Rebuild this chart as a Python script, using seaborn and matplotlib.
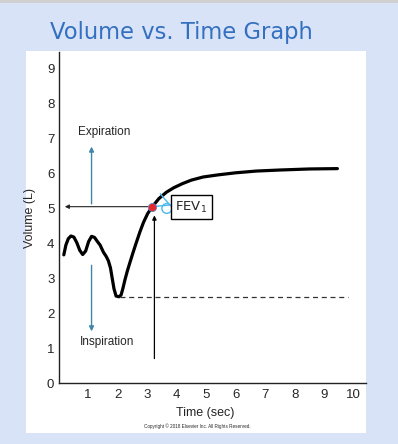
import numpy as np
import pandas as pd
import seaborn as sns
import matplotlib
matplotlib.use("Agg")
import matplotlib.pyplot as plt
from matplotlib.patches import Rectangle

# Spirometry trace (time in sec, volume in L)
time_sec = [0.18, 0.25, 0.33, 0.42, 0.52, 0.62, 0.72, 0.82, 0.92, 1.02,
            1.12, 1.22, 1.32, 1.41, 1.52, 1.62, 1.69, 1.76, 1.82, 1.88,
            1.95, 2.05, 2.12, 2.18, 2.25, 2.33, 2.42, 2.52, 2.62, 2.76,
            2.88, 3.02, 3.18, 3.40, 3.65, 3.90, 4.20, 4.50, 4.90, 5.40,
            6.00, 6.70, 7.50, 8.50, 9.45]
volume_l = [3.67, 3.95, 4.13, 4.21, 4.18, 4.02, 3.80, 3.68, 3.78, 4.05,
            4.20, 4.17, 4.05, 3.95, 3.75, 3.62, 3.50, 3.30, 3.00, 2.70,
            2.49, 2.47, 2.52, 2.70, 2.95, 3.20, 3.45, 3.72, 3.98, 4.33,
            4.60, 4.85, 5.05, 5.28, 5.46, 5.59, 5.71, 5.81, 5.90, 5.96,
            6.02, 6.07, 6.10, 6.13, 6.14]

# residual volume baseline (dashed) and FEV1 point
rv_x = [2.1, 9.8]
rv_y = [2.47, 2.47]
fev1_t, fev1_v = 3.18, 5.05

x_ticks = [1, 2, 3, 4, 5, 6, 7, 8, 9, 10]
y_ticks = [0, 1, 2, 3, 4, 5, 6, 7, 8, 9]

df = pd.DataFrame({"Time (sec)": time_sec, "Volume (L)": volume_l})

sns.set_style("white")
plt.rcParams["font.family"] = ["Liberation Sans", "DejaVu Sans"]

bg = "#d8e3f8"
fig = plt.figure(figsize=(3.98, 4.44), dpi=100, facecolor=bg)

# grey strip at top and white slide panel
fig.patches.append(Rectangle((0, 1 - 3 / 444), 1, 3 / 444, transform=fig.transFigure,
                             facecolor="#d0d0d0", edgecolor="none", zorder=-5))
fig.patches.append(Rectangle((26 / 398, 1 - 433 / 444), 340 / 398, 382 / 444,
                             transform=fig.transFigure, facecolor="white",
                             edgecolor="none", zorder=-5))

fig.text(50 / 398, 1 - 33 / 444, "Volume vs. Time Graph", color="#3470bf",
         fontsize=16.3, family=["DejaVu Sans"], va="center", ha="left")

ax = fig.add_axes([58.5 / 398, 1 - 383 / 444, (366 - 58.5) / 398, (383 - 52) / 444])
ax.set_facecolor("none")
ax.set_zorder(2)

sns.lineplot(data=df, x="Time (sec)", y="Volume (L)", sort=False, estimator=None,
             color="black", linewidth=2.3, ax=ax)

ax.plot(rv_x, rv_y, color="#333333", linewidth=0.9, dashes=(4, 3))

# arrows from FEV1 point
ax.annotate("", xy=(0.12, fev1_v), xytext=(fev1_t - 0.05, fev1_v),
            arrowprops=dict(arrowstyle="-|>", color="#222222", lw=0.8,
                            mutation_scale=6))
ax.annotate("", xy=(3.25, 4.88), xytext=(3.25, 0.62),
            arrowprops=dict(arrowstyle="-|>", color="black", lw=0.9,
                            mutation_scale=6))

teal = "#3f86a8"
ax.annotate("", xy=(1.12, 6.85), xytext=(1.12, fev1_v),
            arrowprops=dict(arrowstyle="-|>", color=teal, lw=1.0, mutation_scale=7))
ax.annotate("", xy=(1.12, 1.40), xytext=(1.12, 3.45),
            arrowprops=dict(arrowstyle="-|>", color=teal, lw=1.0, mutation_scale=7))
ax.text(0.66, 7.2, "Expiration", fontsize=8.5, ha="left", va="center")
ax.text(0.72, 1.17, "Inspiration", fontsize=8.5, ha="left", va="center")

# cursor squiggle, point, and FEV1 box
ax.plot([fev1_t, 3.80], [fev1_v, 5.1], color="#49b8ee", linewidth=1.0)
ax.plot([3.45, 3.75], [5.42, 5.12], color="#49b8ee", linewidth=1.0)
ax.scatter([3.67], [5.0], s=50, facecolor="none", edgecolor="#49b8ee", linewidth=1.0, zorder=4)
ax.scatter([fev1_t], [fev1_v], s=34, color="#e8262b", edgecolor="#5b7fc0",
           linewidth=0.6, zorder=5)
ax.text(4.50, 5.04, r"FEV$_1$", fontsize=9.5, ha="center", va="center",
        family=["DejaVu Sans"], zorder=6,
        bbox=dict(boxstyle="square,pad=0.32", facecolor="white", edgecolor="black", lw=1.0))

ax.set_xlim(0, 10.42)
ax.set_ylim(0, 9.48)
ax.set_xticks(x_ticks)
ax.set_yticks(y_ticks)
ax.tick_params(axis="x", direction="in", length=8, width=0.8, pad=4, labelsize=9.5)
ax.tick_params(axis="y", direction="in", length=4.5, width=0.8, pad=3, labelsize=9.5)
sns.despine(ax=ax)
for s in ["left", "bottom"]:
    ax.spines[s].set_linewidth(1.0)
    ax.spines[s].set_color("#222222")

ax.set_xlabel("")
ax.set_ylabel("")
fig.text(205 / 398, 1 - 413 / 444, "Time (sec)", fontsize=9, ha="center", va="center")
fig.text(30 / 398, 1 - 218 / 444, "Volume (L)", fontsize=9, ha="center", va="center",
         rotation=90)
fig.text(197 / 398, 1 - 426 / 444, "Copyright \u00a9 2018 Elsevier Inc. All Rights Reserved.",
         fontsize=3.3, ha="center", va="center")

fig.savefig("out.png", dpi=100, facecolor=bg)
